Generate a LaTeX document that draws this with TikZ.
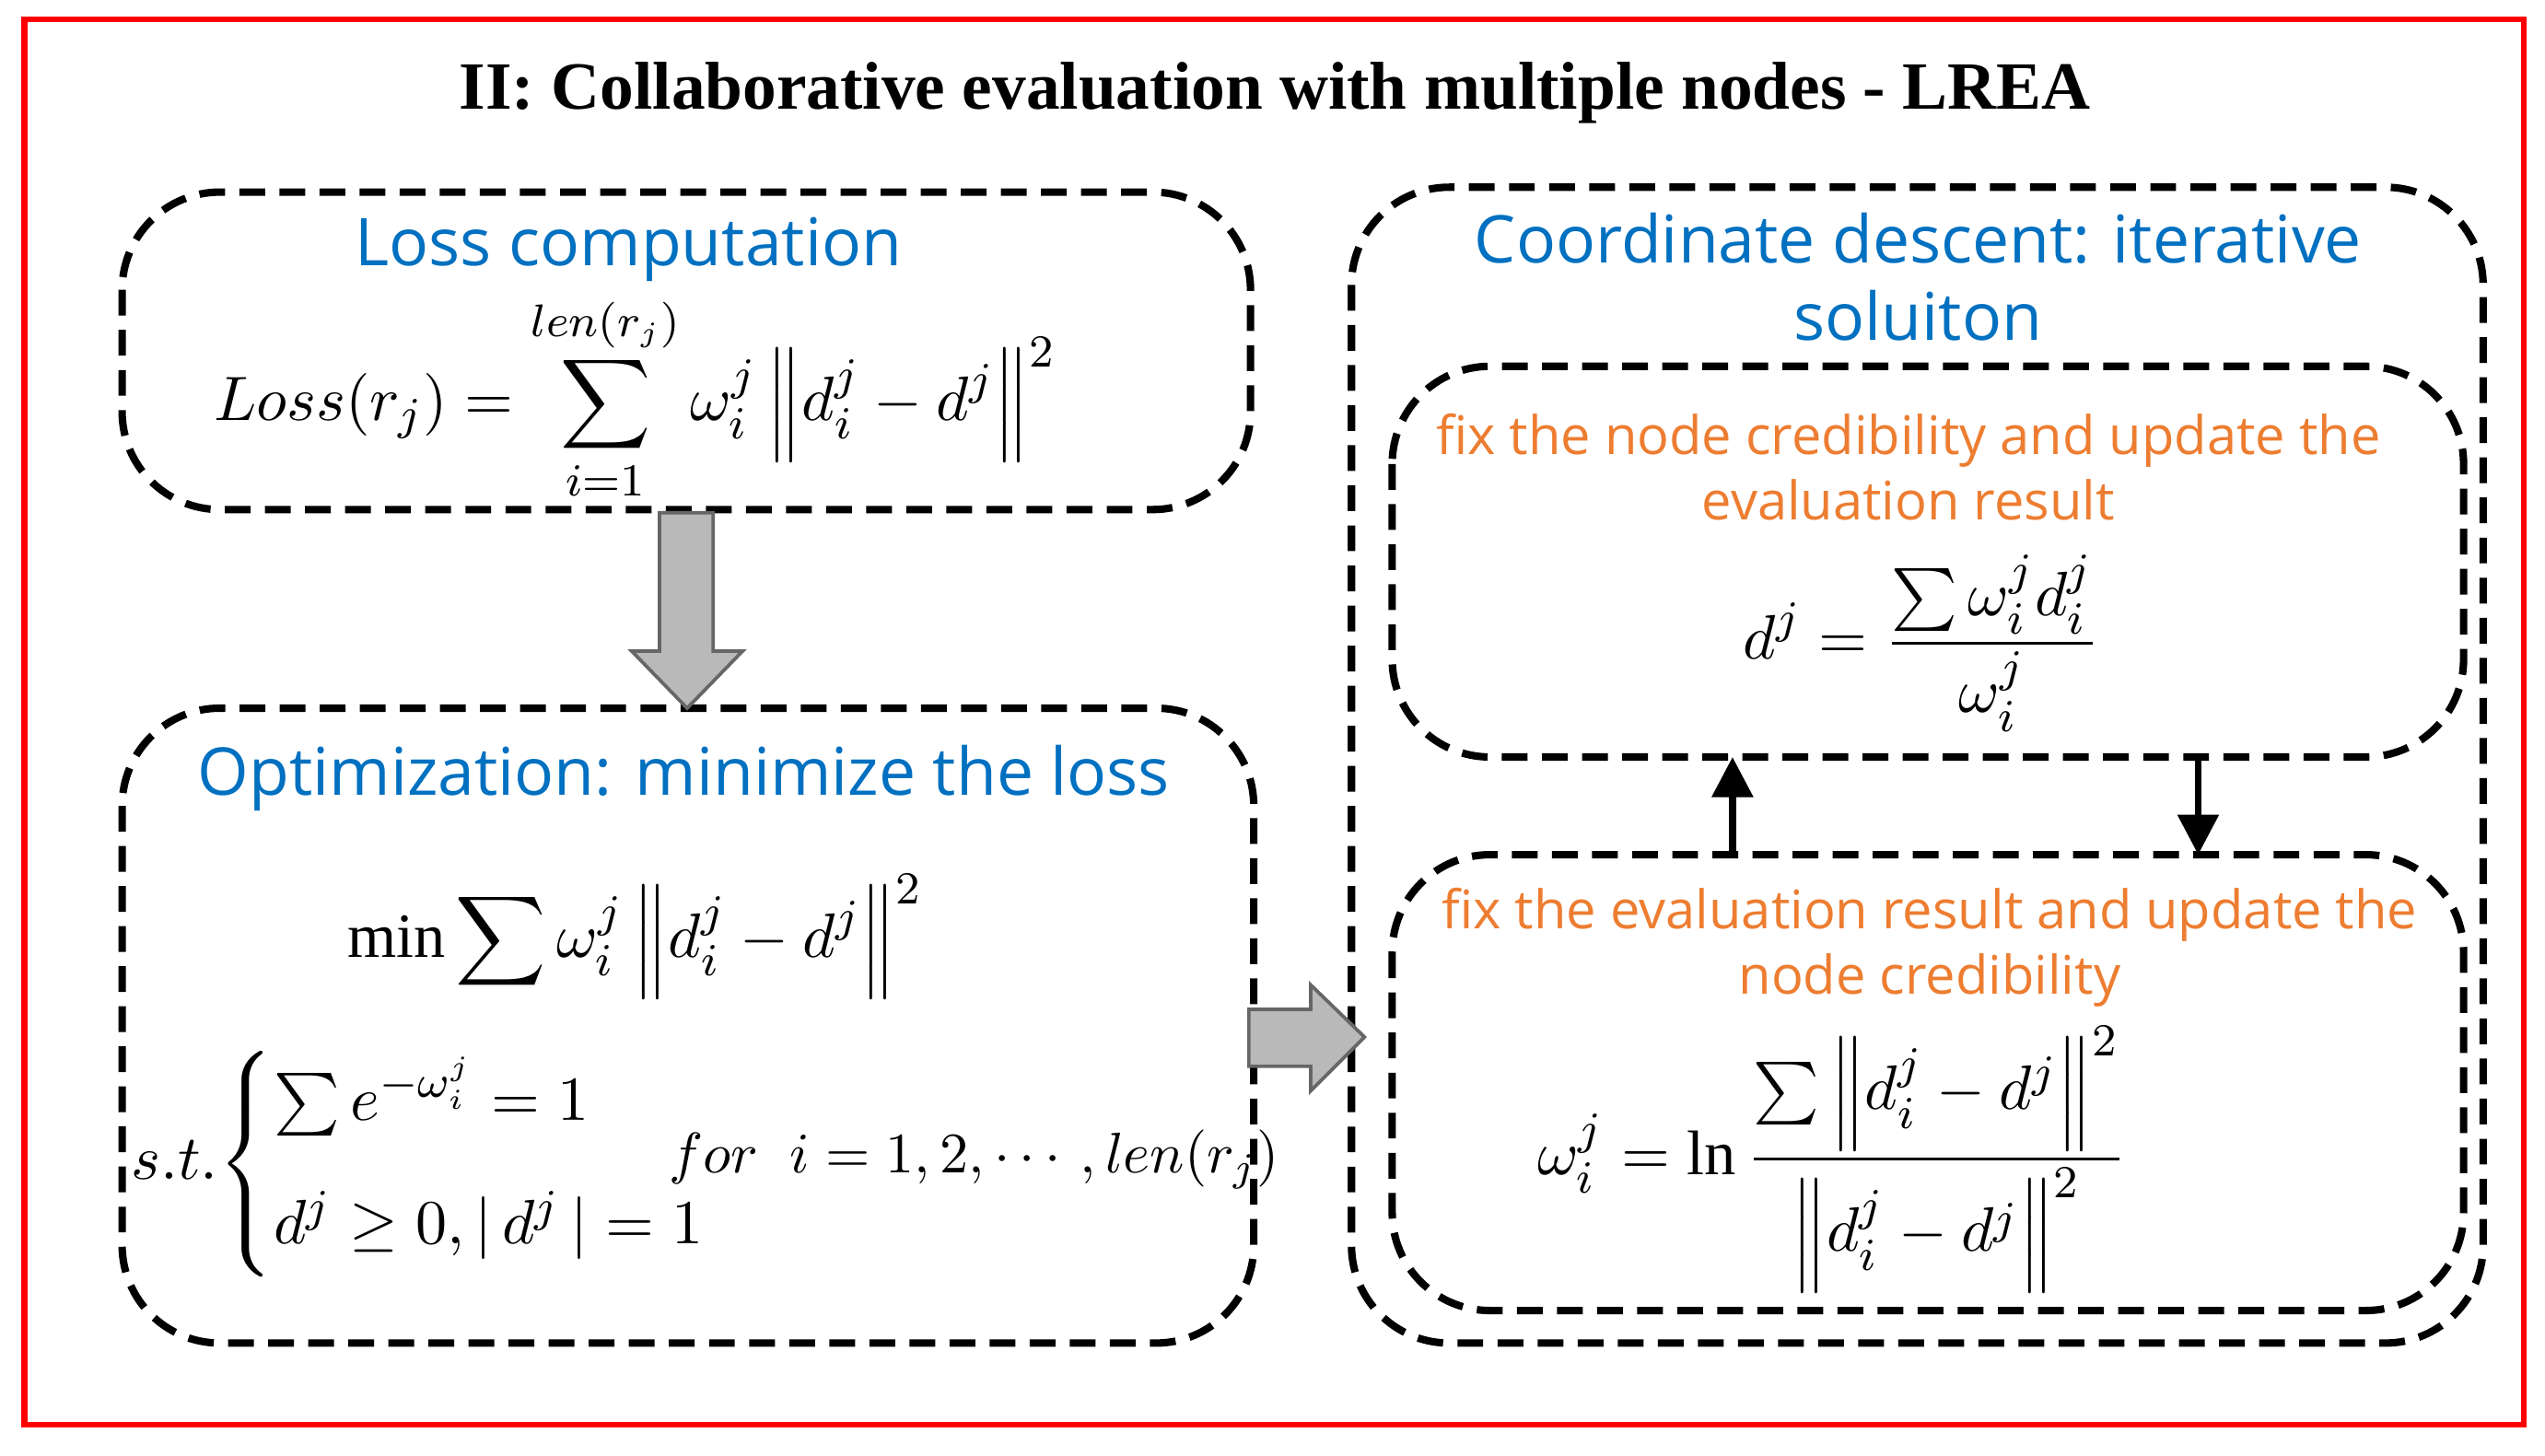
\documentclass[tikz,border=0pt]{standalone}
\usepackage{fontspec}
\usepackage{amsmath}
\setmainfont{Liberation Serif}
\newfontfamily\ysans{Open Sans}
\usetikzlibrary{arrows.meta}
\definecolor{tblue}{RGB}{0,112,192}
\definecolor{torange}{RGB}{237,125,49}
\begin{document}
\begin{tikzpicture}[x=0.01cm,y=-0.01cm,
  dbox/.style={draw,line width=1.3pt,dash pattern=on 4.5pt off 2.5pt,rounded corners=0.6cm},
  btxt/.style={text=tblue,font=\ysans\fontsize{11.5}{13.5}\selectfont,align=center},
  otxt/.style={text=torange,font=\ysans\fontsize{9.3}{11.5}\selectfont,align=center},
  mth/.style={font=\fontsize{11}{13}\selectfont},
  garrow/.style={draw=gray!80!black,fill=gray!55,line width=0.6pt}]
\useasboundingbox (0,0) rectangle (1563,894);
\draw[red,line width=1pt] (15,12) rectangle (1550,875);
\node[font=\bfseries\fontsize{11.8}{14}\selectfont] (title) at (783,57) {II: Collaborative evaluation with multiple nodes - LREA};
% box 1
\draw[dbox] (75,118) rectangle (768,313);
\node[btxt] (t1) at (386,153) {Loss computation};
\node[mth] (f1) at (390,245) {$\displaystyle Loss(r_j)=\sum_{i=1}^{len(r_j)}\omega_i^j\left\Vert d_i^j-d^j\right\Vert^2$};
% box 2
\draw[dbox] (75,435) rectangle (770,825);
\node[btxt] (t2) at (420,478) {Optimization: minimize the loss};
\node[mth] (f2) at (390,575) {$\displaystyle \min\sum\omega_i^j\left\Vert d_i^j-d^j\right\Vert^2$};
\node[mth,anchor=west,inner sep=0pt] (f3) at (80,715) {$\displaystyle s.t.\!\begin{cases}\sum e^{-\omega_i^j}=1\\[6pt] d^j\ge 0,|\,d^j\,|=1\end{cases}$};
\node[mth,font=\fontsize{9.6}{12}\selectfont,anchor=west,inner sep=0pt] (f4) at (410,712) {$for\;\; i=1,2,\cdots,len(r_j)$};
\draw[garrow] (405,315) -- (438,315) -- (438,400) -- (456,400) -- (422,435) -- (388,400) -- (405,400) -- cycle;
% right side
\draw[dbox] (830,115) rectangle (1525,825);
\node[btxt] (t3) at (1178,170) {Coordinate descent:\,\,iterative\\soluiton};
\draw[garrow] (767,620) -- (805,620) -- (805,605) -- (838,637) -- (805,670) -- (805,655) -- (767,655) -- cycle;
\draw[dbox] (855,225) rectangle (1513,465);
\node[otxt] (t4) at (1172,287) {fix the node credibility and update the\\evaluation result};
\node[mth] (f5) at (1180,395) {$\displaystyle d^j=\frac{\sum\omega_i^jd_i^j}{\omega_i^j}$};
\draw[dbox] (855,525) rectangle (1513,805);
\node[otxt] (t5) at (1185,582) {fix the evaluation result and update the\\node credibility};
\node[mth] (f6) at (1125,712) {$\displaystyle \omega_i^j=\ln\frac{\sum\left\Vert d_i^j-d^j\right\Vert^2}{\left\Vert d_i^j-d^j\right\Vert^2}$};
\coordinate (u1) at (1064,525); \coordinate (u2) at (1064,465);
\coordinate (d1) at (1350,465); \coordinate (d2) at (1350,525);
\draw[line width=1.2pt,-{Triangle[length=7pt,width=7pt]}] (u1) -- (u2);
\draw[line width=1.2pt,-{Triangle[length=7pt,width=7pt]}] (d1) -- (d2);
\end{tikzpicture}
\end{document}
